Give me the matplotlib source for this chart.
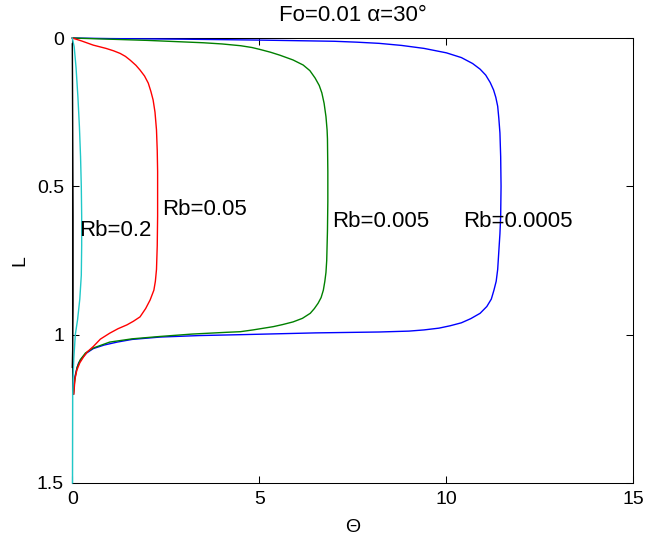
import matplotlib
matplotlib.use("Agg")
import matplotlib.pyplot as plt

plt.rcParams['font.family'] = ['Liberation Sans', 'DejaVu Sans']

# Rb = 0.0005 (blue)
theta_b = [0, 1, 3, 5, 7, 7.6, 8.2, 8.8, 9.4, 10.0, 10.4, 10.7, 10.9, 11.05, 11.17, 11.26, 11.32,
           11.37, 11.4, 11.43, 11.45, 11.46, 11.45, 11.43, 11.4, 11.37, 11.33, 11.27, 11.2,
           11.08, 10.9, 10.65, 10.4, 10.1, 9.8, 9.4, 9.0, 8.2, 6.5, 4.5, 3.4, 2.35, 1.6, 1.2,
           0.85, 0.56, 0.38, 0.25, 0.17, 0.13, 0.09, 0.06, 0.04, 0.03]
L_b = [0, 0.002, 0.004, 0.007, 0.011, 0.014, 0.018, 0.025, 0.035, 0.05, 0.066, 0.086, 0.105, 0.125,
       0.15, 0.175, 0.2, 0.23, 0.27, 0.32, 0.4, 0.5, 0.6, 0.66, 0.72, 0.78, 0.82, 0.85, 0.88,
       0.905, 0.928, 0.946, 0.96, 0.97, 0.978, 0.984, 0.988, 0.991, 0.994, 1.0, 1.003, 1.008,
       1.016, 1.025, 1.035, 1.047, 1.062, 1.08, 1.095, 1.11, 1.13, 1.15, 1.175, 1.2]

# Rb = 0.005 (green)
theta_g = [0, 0.75, 2.0, 3.5, 4.0, 4.5, 4.8, 5.0, 5.3, 5.55, 5.9, 6.17, 6.35, 6.49, 6.6, 6.67,
           6.73, 6.78, 6.81, 6.82, 6.83, 6.83, 6.82, 6.8, 6.78, 6.75, 6.71, 6.65, 6.57, 6.47,
           6.36, 6.15, 5.9, 5.62, 5.37, 4.83, 4.49, 4.13, 3.2, 2.35, 1.6, 1.0, 0.56, 0.35, 0.21,
           0.13, 0.08, 0.05, 0.03]
L_g = [0, 0.003, 0.008, 0.016, 0.02, 0.026, 0.032, 0.038, 0.048, 0.058, 0.074, 0.091, 0.11, 0.135,
       0.16, 0.185, 0.22, 0.265, 0.31, 0.34, 0.45, 0.55, 0.65, 0.75, 0.79, 0.82, 0.85, 0.875,
       0.894, 0.912, 0.928, 0.945, 0.957, 0.966, 0.973, 0.984, 0.99, 0.992, 0.998, 1.006, 1.014,
       1.025, 1.045, 1.062, 1.085, 1.11, 1.14, 1.17, 1.2]

# Rb = 0.05 (red)
theta_r = [0, 0.25, 0.56, 0.9, 1.1, 1.28, 1.42, 1.55, 1.7, 1.81, 1.93, 2.03, 2.1, 2.16, 2.21,
           2.25, 2.27, 2.28, 2.28, 2.27, 2.25, 2.22, 2.18, 2.08, 1.96, 1.81, 1.63, 1.46, 1.22,
           1.0, 0.75, 0.56, 0.4, 0.3, 0.2, 0.12, 0.07, 0.04]
L_r = [0, 0.01, 0.024, 0.035, 0.043, 0.052, 0.062, 0.075, 0.092, 0.108, 0.128, 0.152, 0.18,
       0.209, 0.25, 0.31, 0.38, 0.45, 0.6, 0.7, 0.78, 0.82, 0.85, 0.883, 0.912, 0.94, 0.955,
       0.967, 0.98, 0.995, 1.015, 1.04, 1.058, 1.075, 1.095, 1.12, 1.15, 1.2]

# Rb = 0.2 (cyan)
theta_c = [0, 0.05, 0.1, 0.15, 0.19, 0.22, 0.24, 0.25, 0.25, 0.24, 0.2, 0.14, 0.08, 0.04, 0.02,
           0.01, 0.005]
L_c = [0, 0.03, 0.1, 0.2, 0.3, 0.4, 0.5, 0.6, 0.7, 0.8, 0.88, 0.95, 1.0, 1.08, 1.15, 1.2, 1.5]

# near-zero curve (black)
theta_k = [0, 0.01, 0.02, 0.02, 0.01, 0]
L_k = [0.02, 0.3, 0.6, 0.9, 1.05, 1.11]

labels = ['Rb=0.0005', 'Rb=0.005', 'Rb=0.05', 'Rb=0.2']
label_theta = [10.44, 6.94, 2.39, 0.19]
label_L = [0.636, 0.636, 0.597, 0.667]

fig = plt.figure(figsize=(6.48, 5.43), dpi=100)
ax = fig.add_axes([0.1116, 0.1105, 0.8660, 0.8195])

for th, L, col in [(theta_b, L_b, '#0000ff'), (theta_g, L_g, '#008000'),
                   (theta_r, L_r, '#ff0000'), (theta_c, L_c, '#20c8c8'),
                   (theta_k, L_k, '#000000')]:
    ax.plot(th, L, color=col, lw=1.0, zorder=3, clip_on=False)

for txt, tx, ty in zip(labels, label_theta, label_L):
    ax.text(tx, ty, txt, fontsize=16, ha='left', va='baseline', zorder=4)

ax.set_xlim(0, 15)
ax.set_ylim(1.5, 0)
ax.set_xticks([0, 5, 10, 15])
ax.set_xticklabels(['0', '5', '10', '15'])
ax.set_yticks([0, 0.5, 1, 1.5])
ax.set_yticklabels(['0', '0.5', '1', '1.5'])
ax.tick_params(direction='in', top=True, right=True, length=5, width=0.75,
               labelsize=14, pad=6)
for s in ax.spines.values():
    s.set_linewidth(0.75)

ax.set_xlabel('Θ', fontsize=14, labelpad=8)
ax.set_ylabel('L', fontsize=14, labelpad=6)
ax.set_title('Fo=0.01 α=30°', fontsize=16, pad=12)

fig.savefig('out.png', dpi=100)
